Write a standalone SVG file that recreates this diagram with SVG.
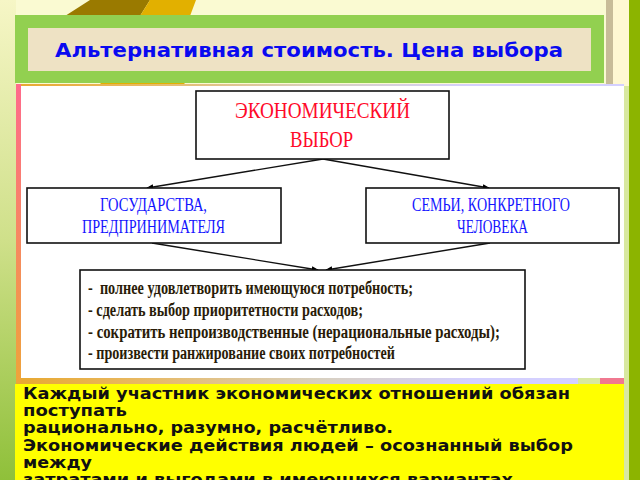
<svg xmlns="http://www.w3.org/2000/svg" width="640" height="480" viewBox="0 0 640 480">
  <defs>
    <linearGradient id="leftbg" x1="0" y1="0" x2="0" y2="1">
      <stop offset="0" stop-color="#f6f6c6"/>
      <stop offset="0.5" stop-color="#cfe08a"/>
      <stop offset="1" stop-color="#8fc03a"/>
    </linearGradient>
    <linearGradient id="leftborder" x1="0" y1="0" x2="0" y2="1">
      <stop offset="0" stop-color="#ff6a8c"/>
      <stop offset="1" stop-color="#eea43a"/>
    </linearGradient>
    <linearGradient id="stripe" x1="0" y1="0" x2="1" y2="0">
      <stop offset="0" stop-color="#e8a830"/>
      <stop offset="0.2" stop-color="#e8b860"/>
      <stop offset="0.5" stop-color="#d8d0c0"/>
      <stop offset="0.75" stop-color="#d4d0ff"/>
      <stop offset="1" stop-color="#d4d0ff"/>
    </linearGradient>
    <marker id="ah" viewBox="0 0 10 10" refX="9" refY="5" markerWidth="7" markerHeight="7" orient="auto" markerUnits="userSpaceOnUse">
      <path d="M0,1 L10,5 L0,9 z" fill="#000"/>
    </marker>
  </defs>
  <style>
    .box { fill: #ffffff; stroke: #111111; stroke-width: 1.6; }
    .conn { stroke: #111111; stroke-width: 1.4; fill: none; marker-end: url(#ah); }
    .red { font-family: "Liberation Serif", "Times New Roman", serif; font-size: 24px; fill: #ff0a2a; }
    .blue { font-family: "Liberation Serif", "Times New Roman", serif; font-size: 19px; fill: #1414ff; }
    .list { font-family: "Liberation Serif", "Times New Roman", serif; font-size: 18px; font-weight: bold; fill: #2a1c08; }
    .title { font-family: "DejaVu Sans", Verdana, sans-serif; font-size: 19px; font-weight: bold; fill: #0a0af0; }
    .note { font-family: "DejaVu Sans", Verdana, sans-serif; font-size: 15px; font-weight: bold; fill: #111111; }
  </style>

  <!-- background -->
  <rect x="0" y="0" width="640" height="480" fill="#fafad2"/>
  <rect x="0" y="0" width="16" height="480" fill="url(#leftbg)"/>
  <rect x="606" y="0" width="7" height="86" fill="#c8bc98"/>
  <rect x="613" y="0" width="16" height="480" fill="#fff8d2"/>
  <rect x="624" y="86" width="5" height="394" fill="#d8e8a0"/>
  <rect x="629" y="0" width="11" height="480" fill="#8cb400"/>
  <polygon points="90,0 150,0 140,16 65,16" fill="#9a7a00"/>
  <polygon points="150,0 196,0 190,16 140,16" fill="#e2b000"/>
  <polygon points="100,83 185,83 180,88 105,88" fill="#e2b000"/>

  <!-- title -->
  <g id="title">
    <rect x="15" y="15" width="589" height="68" fill="#92d050"/>
    <rect x="28" y="28" width="563" height="43" fill="#eee2c4"/>
    <text class="title" x="55" y="57" textLength="508" lengthAdjust="spacingAndGlyphs">Альтернативная стоимость. Цена выбора</text>
  </g>

  <!-- content panel -->
  <rect x="16" y="84" width="608" height="300" fill="url(#stripe)"/>
  <rect x="16" y="84" width="5" height="299" fill="url(#leftborder)"/>
  <rect x="21" y="86" width="603" height="292" fill="#ffffff"/>
  <rect x="600" y="378" width="24" height="6" fill="#f07890"/>
  <rect x="578" y="378" width="22" height="6" fill="#d8e8a0"/>

  <g id="connectors">
    <line class="conn" x1="323" y1="159" x2="147" y2="188"/>
    <line class="conn" x1="323" y1="159" x2="489" y2="188"/>
    <line class="conn" x1="152" y1="243" x2="318" y2="270"/>
    <line class="conn" x1="490" y1="243" x2="326" y2="270"/>
  </g>

  <g id="node-choice">
    <rect class="box" x="196" y="91" width="253" height="68"/>
    <text class="red" x="322.5" y="118" text-anchor="middle" textLength="175" lengthAdjust="spacingAndGlyphs">ЭКОНОМИЧЕСКИЙ</text>
    <text class="red" x="321.5" y="147" text-anchor="middle" textLength="63" lengthAdjust="spacingAndGlyphs">ВЫБОР</text>
  </g>

  <g id="node-state">
    <rect class="box" x="27" y="188" width="254" height="55"/>
    <text class="blue" x="153.5" y="211" text-anchor="middle" textLength="107" lengthAdjust="spacingAndGlyphs">ГОСУДАРСТВА,</text>
    <text class="blue" x="153.5" y="233" text-anchor="middle" textLength="143" lengthAdjust="spacingAndGlyphs">ПРЕДПРИНИМАТЕЛЯ</text>
  </g>

  <g id="node-family">
    <rect class="box" x="366" y="188" width="253" height="55"/>
    <text class="blue" x="491" y="211" text-anchor="middle" textLength="158" lengthAdjust="spacingAndGlyphs">СЕМЬИ, КОНКРЕТНОГО</text>
    <text class="blue" x="492.5" y="233" text-anchor="middle" textLength="71" lengthAdjust="spacingAndGlyphs">ЧЕЛОВЕКА</text>
  </g>

  <g id="node-actions">
    <rect class="box" x="80" y="270" width="445" height="99"/>
    <text class="list" x="88" y="294" textLength="325" lengthAdjust="spacingAndGlyphs" xml:space="preserve">-  полнее удовлетворить имеющуюся потребность;</text>
    <text class="list" x="88" y="316" textLength="275" lengthAdjust="spacingAndGlyphs">- сделать выбор приоритетности расходов;</text>
    <text class="list" x="88" y="338" textLength="412" lengthAdjust="spacingAndGlyphs">- сократить непроизводственные (нерациональные расходы);</text>
    <text class="list" x="88" y="359" textLength="307" lengthAdjust="spacingAndGlyphs">- произвести ранжирование своих потребностей</text>
  </g>

  <g id="note">
    <rect x="15" y="384" width="609" height="96" fill="#ffff00"/>
    <text class="note" x="23" y="399" textLength="547" lengthAdjust="spacingAndGlyphs">Каждый участник экономических отношений обязан</text>
    <text class="note" x="23" y="416" textLength="104" lengthAdjust="spacingAndGlyphs">поступать</text>
    <text class="note" x="23" y="433" textLength="370" lengthAdjust="spacingAndGlyphs">рационально, разумно, расчётливо.</text>
    <text class="note" x="23" y="451" textLength="550" lengthAdjust="spacingAndGlyphs">Экономические действия людей – осознанный выбор</text>
    <text class="note" x="23" y="468" textLength="69" lengthAdjust="spacingAndGlyphs">между</text>
    <text class="note" x="23" y="485" textLength="490" lengthAdjust="spacingAndGlyphs">затратами и выгодами в имеющихся вариантах</text>
  </g>
</svg>
